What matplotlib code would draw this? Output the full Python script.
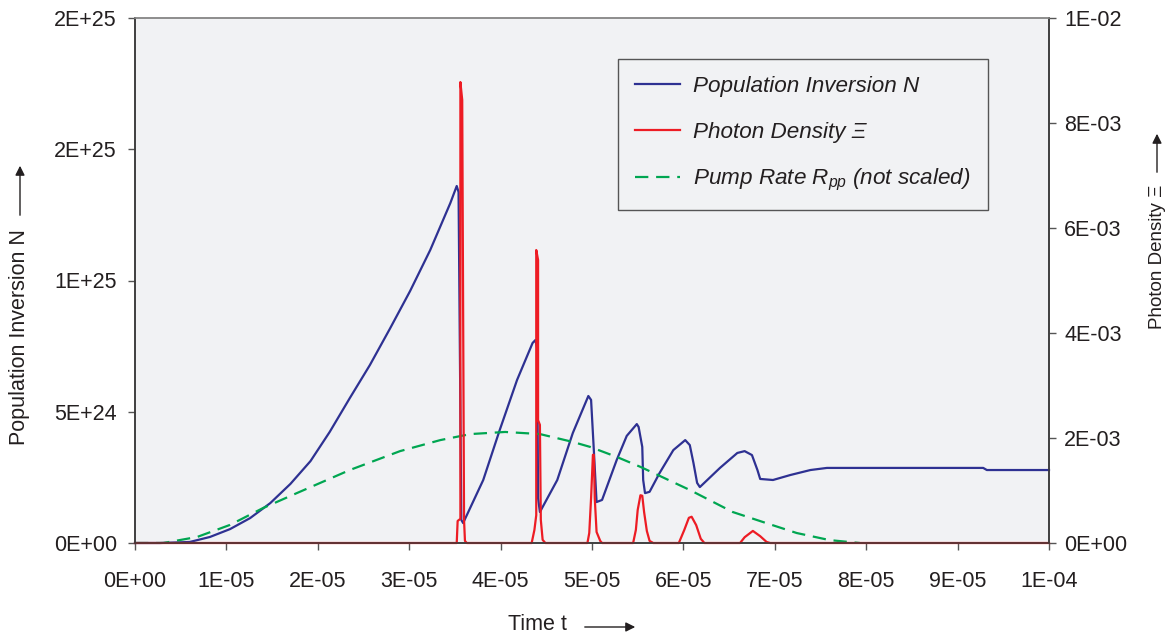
import numpy as np
import matplotlib
matplotlib.use("Agg")
import matplotlib.pyplot as plt
from matplotlib.patches import FancyArrowPatch

plt.rcParams['font.family'] = ['Liberation Sans', 'DejaVu Sans']
plt.rcParams['mathtext.fontset'] = 'custom'
plt.rcParams['mathtext.it'] = 'Liberation Sans:italic'
plt.rcParams['mathtext.rm'] = 'Liberation Sans'

# time in microseconds, inversion in 1e24 m^-3, photon density in 1e-3
t_inv_us = [0, 2.7, 6.0, 8.2, 10.4, 12.6, 14.8, 17.0, 19.2, 21.3, 23.5, 25.7, 27.9,
            30.1, 32.3, 34.5, 35.2, 35.4,
            35.7, 35.9, 38.1, 39.9, 41.8, 43.5, 43.8, 44.0, 44.1, 44.3,
            46.2, 47.9, 49.6, 49.9, 50.2, 50.5, 51.1, 52.7, 53.8, 54.9, 55.1, 55.5,
            55.6, 55.8, 56.3, 57.4, 58.9, 60.2, 60.7, 61.1, 61.5, 61.8, 64.0, 65.9,
            66.7, 67.5, 68.1, 68.4, 69.8, 70.6, 71.7, 73.9, 75.7, 92.8, 93.2, 100.0]
inv_1e24 = [0, 0, 0.04, 0.23, 0.53, 0.95, 1.52, 2.25, 3.12, 4.23, 5.52, 6.78, 8.17,
            9.60, 11.16, 12.95, 13.60, 13.37,
            0.88, 0.76, 2.40, 4.30, 6.21, 7.62, 7.73, 7.43, 1.71, 1.18,
            2.40, 4.19, 5.60, 5.45, 3.54, 1.56, 1.64, 3.16, 4.08, 4.53, 4.42, 3.66,
            2.40, 1.90, 1.95, 2.67, 3.54, 3.92, 3.73, 3.05, 2.29, 2.13, 2.86, 3.43,
            3.50, 3.35, 2.78, 2.44, 2.40, 2.48, 2.59, 2.78, 2.86, 2.86, 2.78, 2.78]

t_ph_us = [0, 35.2, 35.3, 35.6, 35.6, 35.8, 36.0, 36.1, 36.3,
           43.4, 43.7, 43.9, 43.9, 44.1, 44.1, 44.3, 44.4, 44.6, 44.9,
           49.5, 49.7, 49.9, 50.1, 50.2, 50.3, 50.5, 50.9, 51.1,
           54.5, 54.8, 55.0, 55.3, 55.5, 55.7, 56.0, 56.3, 56.7,
           59.5, 60.1, 60.6, 60.9, 61.4, 61.9, 62.3,
           66.2, 66.7, 67.6, 68.4, 69.1, 69.5, 100.0]
ph_1e3 = [0, 0, 0.42, 0.46, 8.78, 8.44, 0.44, 0.04, 0,
          0, 0.25, 0.53, 5.58, 5.39, 2.34, 2.25, 0.44, 0.06, 0,
          0, 0.19, 0.86, 1.68, 1.68, 0.86, 0.21, 0.04, 0,
          0, 0.25, 0.63, 0.91, 0.90, 0.59, 0.23, 0.04, 0,
          0, 0.25, 0.48, 0.50, 0.34, 0.08, 0,
          0, 0.11, 0.23, 0.13, 0.02, 0, 0]

t_pump_us = [0, 3.1, 6.8, 10.4, 14.0, 17.7, 23.5, 29.0, 33.4, 36.7, 40.5, 44.3, 47.9,
             49.8, 52.7, 55.3, 60.7, 65.4, 68.7, 72.4, 76.0, 79.3]
pump_1e24 = [0, 0, 0.23, 0.69, 1.33, 1.90, 2.78, 3.50, 3.92, 4.15, 4.23, 4.15, 3.85,
             3.66, 3.28, 2.90, 2.02, 1.18, 0.80, 0.38, 0.11, 0]

x_ticks = np.arange(0, 11) * 1e-5
x_ticklabels = ['0E+00', '1E-05', '2E-05', '3E-05', '4E-05', '5E-05',
                '6E-05', '7E-05', '8E-05', '9E-05', '1E-04']
left_ticks = [0, 5e24, 1e25, 1.5e25, 2e25]
left_ticklabels = ['0E+00', '5E+24', '1E+25', '2E+25', '2E+25']
right_ticks = [0, 2e-3, 4e-3, 6e-3, 8e-3, 1e-2]
right_ticklabels = ['0E+00', '2E-03', '4E-03', '6E-03', '8E-03', '1E-02']

W, H = 1176, 638
fig = plt.figure(figsize=(W / 100, H / 100), dpi=100)
ax = fig.add_axes([135 / W, 1 - 543 / H, (1049 - 135) / W, (543 - 18) / H])
ax.set_facecolor('#F1F2F4')
ax2 = ax.twinx()

c_inv, c_ph, c_pump = '#2E3192', '#ED1C24', '#00A651'

t_inv = np.array(t_inv_us) * 1e-6
t_ph = np.array(t_ph_us) * 1e-6
t_pump = np.array(t_pump_us) * 1e-6

l_inv, = ax.plot(t_inv, np.array(inv_1e24) * 1e24, color=c_inv, lw=1.6, clip_on=False, zorder=3)
l_pump, = ax.plot(t_pump, np.array(pump_1e24) * 1e24, color=c_pump, lw=1.6,
                  linestyle=(0, (6, 3.5)), zorder=4)
l_ph, = ax2.plot(t_ph, np.array(ph_1e3) * 1e-3, color=c_ph, lw=1.6, clip_on=False)

ax.set_xlim(0, 1e-4)
ax.set_ylim(0, 2e25)
ax2.set_ylim(0, 1e-2)

ax.set_xticks(x_ticks)
ax.set_xticklabels(x_ticklabels)
ax.set_yticks(left_ticks)
ax.set_yticklabels(left_ticklabels)
ax2.set_yticks(right_ticks)
ax2.set_yticklabels(right_ticklabels)

txt = '#231F20'
ax.tick_params(axis='x', direction='out', length=5, width=1, colors='#555555',
               labelcolor=txt, labelsize=15.5, pad=15)
ax.tick_params(axis='y', direction='out', length=5, width=1, colors='#555555',
               labelcolor=txt, labelsize=15.5, pad=8)
ax2.tick_params(axis='y', direction='out', length=5, width=1, colors='#555555',
                labelcolor=txt, labelsize=15.5, pad=6)
for a in (ax, ax2):
    for s in a.spines.values():
        s.set_color('#3A3A3A')
        s.set_linewidth(1.1)
ax.spines['top'].set_color('#8A8A8A')
ax2.spines['top'].set_color('#8A8A8A')

# legend box at upper right of the plot
leg = ax2.legend([l_inv, l_ph, l_pump],
                 ['Population Inversion N', 'Photon Density Ξ',
                  'Pump Rate $R_{pp}$ (not scaled)'],
                 loc='upper left', bbox_to_anchor=(618 / W, 1 - 59 / H),
                 bbox_transform=fig.transFigure, borderaxespad=0, fancybox=False,
                 framealpha=1, facecolor='#F1F2F4', edgecolor='#555555', borderpad=0.75,
                 handlelength=2.0, handletextpad=0.6, labelspacing=1.1,
                 prop={'size': 16.2, 'style': 'italic'})
leg.get_frame().set_linewidth(1.0)
for t in leg.get_texts():
    t.set_color(txt)


def fx(px):
    return px / W


def fy(py):
    return 1 - py / H


# axis titles with arrows
fig.text(fx(20), fy(337), 'Population Inversion N', rotation=90, ha='center', va='center',
         fontsize=15.5, color=txt)
fig.text(fx(1157), fy(257), 'Photon Density Ξ', rotation=90, ha='center', va='center',
         fontsize=13.5, color=txt)
fig.text(fx(537), fy(624), 'Time t', ha='center', va='center', fontsize=15.5, color=txt)

arrow = dict(arrowstyle='-|>', color='#231F20', lw=1.0, mutation_scale=14)
fig.add_artist(FancyArrowPatch((fx(20), fy(218)), (fx(20), fy(163)),
                               transform=fig.transFigure, **arrow))
fig.add_artist(FancyArrowPatch((fx(1157), fy(175)), (fx(1157), fy(131)),
                               transform=fig.transFigure, **arrow))
fig.add_artist(FancyArrowPatch((fx(582), fy(627)), (fx(638), fy(627)),
                               transform=fig.transFigure, **arrow))

fig.savefig('out.png', dpi=100)
